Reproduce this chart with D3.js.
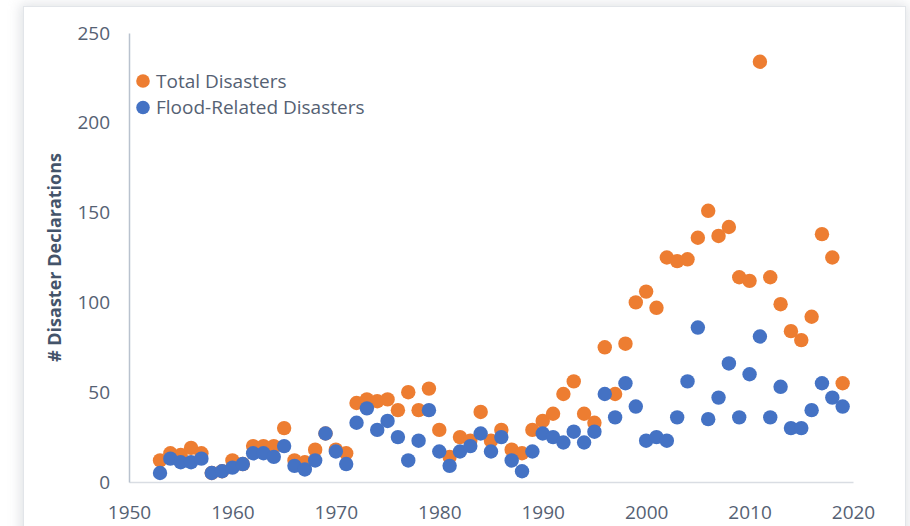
<!DOCTYPE html>
<html>
<head>
<meta charset="utf-8">
<script src="https://cdn.jsdelivr.net/npm/d3@7"></script>
<style>
  html, body { margin: 0; padding: 0; background: #ffffff; }
  svg { display: block; }
</style>
</head>
<body>
<svg id="chart" width="910" height="526"></svg>
<script>
// FEMA disaster declarations per year, 1953–2019
const years = d3.range(1953, 2020);
const totalDisasters = [
  12, 16, 15, 19, 16, 5, 6, 12, 10, 20,
  20, 20, 30, 12, 11, 18, 27, 18, 16, 44,
  46, 45, 46, 40, 50, 40, 52, 29, 14, 25,
  23, 39, 23, 29, 18, 16, 29, 34, 38, 49,
  56, 38, 33, 75, 49, 77, 100, 106, 97, 125,
  123, 124, 136, 151, 137, 142, 114, 112, 234, 114,
  99, 84, 79, 92, 138, 125, 55
];
const floodDisasters = [
  5, 13, 11, 11, 13, 5, 6, 8, 10, 16,
  16, 14, 20, 9, 7, 12, 27, 17, 10, 33,
  41, 29, 34, 25, 12, 23, 40, 17, 9, 17,
  20, 27, 17, 25, 12, 6, 17, 27, 25, 22,
  28, 22, 28, 49, 36, 55, 42, 23, 25, 23,
  36, 56, 86, 35, 47, 66, 36, 60, 81, 36,
  53, 30, 30, 40, 55, 47, 42
];
const xTicks = [1950, 1960, 1970, 1980, 1990, 2000, 2010, 2020];
const yTicks = [0, 50, 100, 150, 200, 250];
const seriesNames = ["Total Disasters", "Flood-Related Disasters"];
const seriesColors = ["#ED7D31", "#4472C4"];

const svg = d3.select("#chart");
const font = "'Open Sans', 'Noto Sans', sans-serif";

// card with soft shadow
const defs = svg.append("defs");
const blur = defs.append("filter").attr("id", "shadow")
  .attr("x", "-10%").attr("y", "-10%").attr("width", "120%").attr("height", "120%");
blur.append("feGaussianBlur").attr("stdDeviation", 6);
svg.append("rect").attr("x", 20).attr("y", 4).attr("width", 888).attr("height", 560)
  .attr("fill", "#c8ccd2").attr("opacity", 0.55).attr("filter", "url(#shadow)");
svg.append("rect").attr("x", 23.5).attr("y", 6.5).attr("width", 882).attr("height", 540)
  .attr("fill", "#ffffff").attr("stroke", "#e2e5e9").attr("stroke-width", 1);

const x = d3.scaleLinear().domain([1950, 2020]).range([129, 853]);
const y = d3.scaleLinear().domain([0, 250]).range([482, 33]);

// x axis
const xAxis = svg.append("g").attr("transform", `translate(0,${y(0)})`)
  .call(d3.axisBottom(x).tickValues(xTicks).tickFormat(d3.format("d")).tickSize(0).tickPadding(24));
xAxis.select(".domain").attr("stroke", "#d9dde3").attr("stroke-width", 1.5);
xAxis.selectAll("text").attr("fill", "#556173").style("font-family", font).style("font-size", "19px");

// y axis
const yAxis = svg.append("g").attr("transform", `translate(${x(1950)},0)`)
  .call(d3.axisLeft(y).tickValues(yTicks).tickSize(0).tickPadding(19));
yAxis.select(".domain").attr("stroke", "#b9c2ce").attr("stroke-width", 1.5);
yAxis.selectAll("text").attr("fill", "#556173").style("font-family", font).style("font-size", "19px");

// y axis title
svg.append("text")
  .attr("transform", `translate(61,${(y(0) + y(250)) / 2}) rotate(-90)`)
  .attr("text-anchor", "middle")
  .attr("fill", "#44546A")
  .style("font-family", font).style("font-size", "18px").style("font-weight", "bold")
  .text("# Disaster Declarations");

// points: total first, flood-related drawn on top
const series = [totalDisasters, floodDisasters];
series.forEach((vals, i) => {
  svg.append("g").selectAll("circle")
    .data(years.map((yr, k) => ({ yr, v: vals[k] })))
    .join("circle")
    .attr("cx", d => x(d.yr))
    .attr("cy", d => y(d.v))
    .attr("r", 7.2)
    .attr("fill", seriesColors[i]);
});

// legend
const legend = svg.append("g");
seriesNames.forEach((name, i) => {
  const row = legend.append("g").attr("transform", `translate(143,${81 + i * 26.5})`);
  row.append("circle").attr("r", 6.8).attr("fill", seriesColors[i]);
  row.append("text").attr("x", 13).attr("dy", "0.35em")
    .attr("fill", "#556173")
    .style("font-family", font).style("font-size", "19px")
    .text(name);
});
</script>
</body>
</html>
